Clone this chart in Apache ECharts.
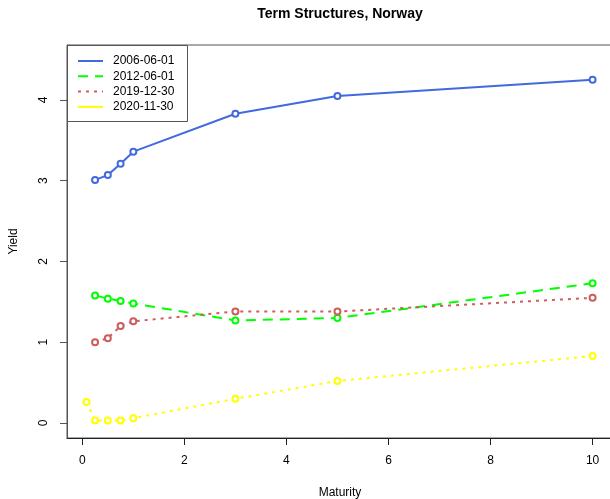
<!DOCTYPE html>
<html>
<head>
<meta charset="utf-8">
<script src="https://cdn.jsdelivr.net/npm/echarts@6/dist/echarts.min.js"></script>
<style>
html, body { margin: 0; padding: 0; background: #fff; }
#main { width: 610px; height: 499px; }
</style>
</head>
<body>
<div id="main"></div>
<script>
// 数据
var maturity = [0.25, 0.5, 0.75, 1, 3, 5, 10];
var maturityShort = [0.083, 0.25, 0.5, 0.75, 1, 3, 5, 10];
var seriesNames = ['2006-06-01', '2012-06-01', '2019-12-30', '2020-11-30'];
var yield2006 = [3.01, 3.07, 3.21, 3.36, 3.83, 4.05, 4.25];
var yield2012 = [1.58, 1.54, 1.51, 1.48, 1.27, 1.30, 1.73];
var yield2019 = [1.00, 1.05, 1.20, 1.26, 1.38, 1.38, 1.55];
var yield2020 = [0.26, 0.03, 0.03, 0.03, 0.06, 0.30, 0.52, 0.83];
var xTicks = [0, 2, 4, 6, 8, 10];
var yTicks = [0, 1, 2, 3, 4];

var colors = ['#4169E1', '#00FF00', '#CD5C5C', '#FFFF00'];
var lineTypes = ['solid', [10, 7], [3, 5], [3, 5]];
var legendTypes = ['solid', [10, 7], [3, 5], 'solid'];
var font = 'Liberation Sans, Arial, sans-serif';

function pairs(xs, ys) {
	var out = [];
	for (var i = 0; i < ys.length; i++) {
		out.push([xs[i], ys[i]]);
	}
	return out;
}

var allData = [
	pairs(maturity, yield2006),
	pairs(maturity, yield2012),
	pairs(maturity, yield2019),
	pairs(maturityShort, yield2020)
];

var series = [];
for (var i = 0; i < seriesNames.length; i++) {
	series.push({
		name: seriesNames[i],
		type: 'line',
		data: allData[i],
		symbol: 'emptyCircle',
		symbolSize: 6,
		showAllSymbol: true,
		itemStyle: { color: colors[i], borderColor: colors[i], borderWidth: 2 },
		lineStyle: { color: colors[i], width: 2, type: lineTypes[i] },
		emphasis: { disabled: true },
		z: 2 + i
	});
}

// 图例 (画在左上角)
var legendItems = [];
var lx = 67, ly = 45;
legendItems.push({
	type: 'rect',
	shape: { x: lx + 0.5, y: ly + 0.5, width: 120, height: 76 },
	style: { fill: '#fff', stroke: '#555', lineWidth: 1 },
	z: 100
});
for (var i = 0; i < seriesNames.length; i++) {
	var yy = 61 + i * 15.3;
	legendItems.push({
		type: 'line',
		shape: { x1: 78, y1: yy, x2: 103, y2: yy },
		style: { stroke: colors[i], lineWidth: 2, lineDash: legendTypes[i] === 'solid' ? null : legendTypes[i] },
		z: 101
	});
	legendItems.push({
		type: 'text',
		x: 113,
		y: yy,
		style: { text: seriesNames[i], font: '12px ' + font, fill: '#000', textVerticalAlign: 'middle' },
		z: 101
	});
}
// 标题
legendItems.push({
	type: 'text',
	x: 340,
	y: 14,
	style: { text: 'Term Structures, Norway', font: 'bold 14px ' + font, fill: '#000', textAlign: 'center', textVerticalAlign: 'middle' }
});

var myChart = echarts.init(document.getElementById('main'));
var option = {
	animation: false,
	backgroundColor: '#fff',
	grid: {
		left: 67, right: -3, top: 45, bottom: 61,
		outerBoundsMode: 'none',
		containLabel: false,
		show: true, borderColor: '#555', borderWidth: 1, backgroundColor: 'transparent'
	},
	xAxis: {
		type: 'value',
		min: -0.30,
		max: 10.40,
		name: 'Maturity',
		nameLocation: 'middle',
		nameGap: 49,
		nameTextStyle: { fontFamily: font, fontSize: 12, color: '#000' },
		axisLine: { show: true, onZero: false, lineStyle: { color: '#222', width: 1 } },
		axisTick: { show: true, length: 7, lineStyle: { color: '#222' }, customValues: xTicks },
		axisLabel: { fontFamily: font, fontSize: 12, color: '#000', margin: 17, customValues: xTicks },
		splitLine: { show: false }
	},
	yAxis: {
		type: 'value',
		min: -0.186,
		max: 4.681,
		name: 'Yield',
		nameLocation: 'middle',
		nameGap: 47,
		nameRotate: 90,
		nameTextStyle: { fontFamily: font, fontSize: 12, color: '#000' },
		axisLine: { show: true, onZero: false, lineStyle: { color: '#555', width: 1 } },
		axisTick: { show: true, length: 7, lineStyle: { color: '#555' }, customValues: yTicks },
		axisLabel: { fontFamily: font, fontSize: 12, color: '#000', margin: 17, rotate: 90, customValues: yTicks },
		splitLine: { show: false }
	},
	graphic: legendItems,
	series: series
};
myChart.setOption(option);
</script>
</body>
</html>
